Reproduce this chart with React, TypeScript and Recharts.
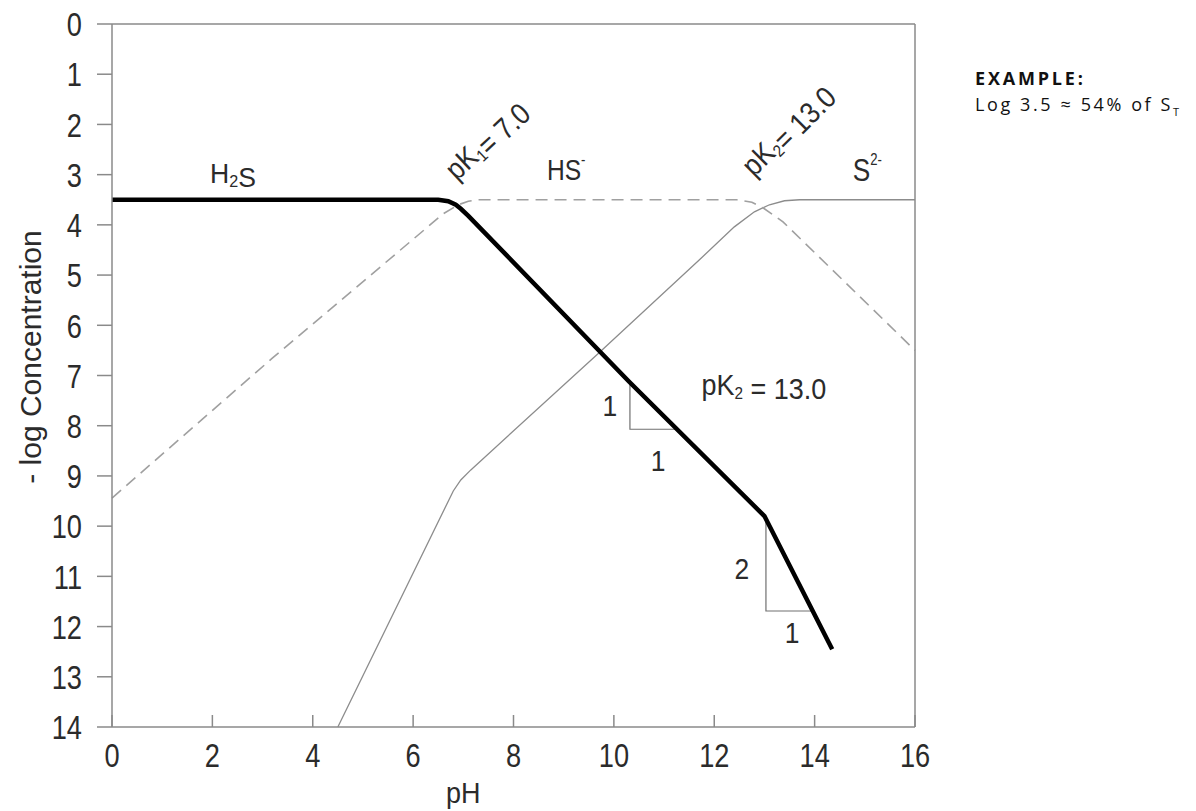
import React from 'react'
import { LineChart, Line, XAxis, YAxis, ReferenceDot, Label } from 'recharts'

const FONT = "'Liberation Sans', Arial, sans-serif"
const AXIS = '#8a8a8a'
const INK = '#2b2b2b'

// pH / -log C points
const h2sPh = [0, 6.5, 6.7, 6.85, 6.95, 7.1, 10.3, 13.0, 14.35]
const h2sLog = [3.5, 3.5, 3.53, 3.6, 3.68, 3.82, 7.12, 9.8, 12.45]
const hsPh = [0, 3.2, 6.6, 6.9, 7.1, 7.3, 12.45, 12.75, 12.97, 13.37, 16]
const hsLog = [9.44, 6.65, 3.78, 3.6, 3.53, 3.5, 3.5, 3.55, 3.66, 3.94, 6.5]
const s2Ph = [4.5, 6.8, 6.95, 7.15, 9.7, 11.7, 12.4, 12.8, 13.1, 13.4, 13.7, 16]
const s2Log = [14, 9.3, 9.08, 8.88, 6.55, 4.7, 4.04, 3.74, 3.6, 3.52, 3.5, 3.5]

// slope triangles
const tri1Ph = [10.32, 10.32, 11.27]
const tri1Log = [7.14, 8.07, 8.07]
const tri2Ph = [13.03, 13.03, 13.96]
const tri2Log = [9.82, 11.69, 11.69]

const phTicks = [0, 2, 4, 6, 8, 10, 12, 14, 16]
const logTicks = [0, 1, 2, 3, 4, 5, 6, 7, 8, 9, 10, 11, 12, 13, 14]
const rightTicks = [0, 2, 4, 6, 8, 10, 12, 14]

const toPts = (ph: number[], lg: number[]) => ph.map((p, i) => ({ ph: p, c: lg[i] }))

const h2sData = toPts(h2sPh, h2sLog)
const hsData = toPts(hsPh, hsLog)
const s2Data = toPts(s2Ph, s2Log)
const tri1Data = toPts(tri1Ph, tri1Log)
const tri2Data = toPts(tri2Ph, tri2Log)

// condensed-looking text: Liberation Sans squeezed horizontally
const Squeezed = ({ x, y, sx = 0.82, angle = 0, size = 34, anchor = 'middle', dy, children }: any) => (
  <text
    transform={`translate(${x} ${y}) rotate(${angle}) scale(${sx} 1)`}
    x={0}
    y={0}
    dy={dy}
    textAnchor={anchor}
    fontSize={size}
    fill={INK}
    fontFamily={FONT}
  >
    {children}
  </text>
)

const LeftTick = (props: any) => {
  const { x, y, payload } = props
  return (
    <Squeezed x={x} y={y} anchor="end" dy="0.36em" sx={0.8}>
      {payload.value}
    </Squeezed>
  )
}

const BottomTick = (props: any) => {
  const { x, y, payload } = props
  const axisY = y - 15
  return (
    <g>
      <line x1={x} x2={x} y1={axisY} y2={axisY - 12} stroke={AXIS} strokeWidth={1.5} />
      <Squeezed x={x} y={y} dy="0.74em" sx={0.8}>
        {payload.value}
      </Squeezed>
    </g>
  )
}

const note = (body: React.ReactNode, angle = 0, size = 30, sx = 0.88) => (p: any) => {
  const vb = p.viewBox || {}
  const cx = vb.x + (vb.width || 0) / 2
  const cy = vb.y + (vb.height || 0) / 2
  return (
    <Squeezed x={cx} y={cy} angle={angle} size={size} sx={sx} dy="0.36em">
      {body}
    </Squeezed>
  )
}

const sub = (t: string) => (
  <>
    <tspan dy={4} fontSize={17}>{t}</tspan>
    <tspan dy={-4}>{''}</tspan>
  </>
)

export default function App() {
  return (
    <div style={{ position: 'relative', width: 1180, height: 803 }}>
      <style>{'.recharts-surface{overflow:visible}'}</style>
      <LineChart width={1180} height={803} margin={{ top: 16, right: 273, bottom: 24, left: 0 }}>
        <XAxis
          type="number"
          dataKey="ph"
          domain={[0, 16]}
          ticks={phTicks}
          interval={0}
          height={60}
          tickSize={12}
          tickMargin={3}
          tickLine={false}
          axisLine={{ stroke: AXIS, strokeWidth: 1.5 }}
          tick={<BottomTick />}
        >
          <Label
            content={(p: any) => {
              const vb = p.viewBox
              return (
                <Squeezed x={vb.x + vb.width * 0.4375} y={vb.y + 76} size={29} sx={0.93}>
                  pH
                </Squeezed>
              )
            }}
          />
        </XAxis>
        <XAxis
          xAxisId="top"
          orientation="top"
          mirror
          type="number"
          domain={[0, 16]}
          ticks={phTicks}
          interval={0}
          tickSize={12}
          stroke={AXIS}
          axisLine={{ stroke: AXIS, strokeWidth: 1.5 }}
          tickLine={{ stroke: AXIS, strokeWidth: 1.5 }}
          tick={() => <g />}
        />
        <YAxis
          type="number"
          reversed
          domain={[0, 14]}
          ticks={logTicks}
          interval={0}
          width={104}
          tickSize={15}
          tickMargin={15}
          axisLine={{ stroke: AXIS, strokeWidth: 1.5 }}
          tickLine={{ stroke: AXIS, strokeWidth: 1.5 }}
          tick={<LeftTick />}
        >
          <Label
            content={(p: any) => {
              const vb = p.viewBox
              return (
                <Squeezed x={vb.x + 22} y={349} angle={-90} size={30} sx={1} dy="0.36em">
                  - log Concentration
                </Squeezed>
              )
            }}
          />
        </YAxis>
        <YAxis
          yAxisId="right"
          orientation="right"
          mirror
          type="number"
          reversed
          domain={[0, 14]}
          ticks={rightTicks}
          interval={0}
          tickSize={9}
          axisLine={{ stroke: AXIS, strokeWidth: 1.5 }}
          tickLine={{ stroke: AXIS, strokeWidth: 1.5 }}
          tick={() => <g />}
        />

        <Line data={tri1Data} dataKey="c" stroke="#707070" strokeWidth={1.2} dot={false} isAnimationActive={false} />
        <Line data={tri2Data} dataKey="c" stroke="#707070" strokeWidth={1.2} dot={false} isAnimationActive={false} />
        <Line data={s2Data} dataKey="c" stroke="#8c8c8c" strokeWidth={1.3} dot={false} isAnimationActive={false} />
        <Line data={hsData} dataKey="c" stroke="#a0a0a0" strokeWidth={1.6} strokeDasharray="12 7" dot={false} isAnimationActive={false} />
        <Line data={h2sData} dataKey="c" stroke="#000000" strokeWidth={4.5} dot={false} isAnimationActive={false} />

        <ReferenceDot x={2.41} y={2.97} r={0} fill="none" stroke="none">
          <Label content={note(<><tspan>H</tspan>{sub('2')}<tspan>S</tspan></>, 0, 28, 0.95)} />
        </ReferenceDot>
        <ReferenceDot x={7.45} y={2.3} r={0} fill="none" stroke="none">
          <Label content={note(<><tspan>pK</tspan>{sub('1')}<tspan>= 7.0</tspan></>, -43, 30, 0.88)} />
        </ReferenceDot>
        <ReferenceDot x={9.05} y={2.9} r={0} fill="none" stroke="none">
          <Label content={note(<><tspan>HS</tspan><tspan dy={-15} fontSize={16}>-</tspan></>, 0, 30, 0.82)} />
        </ReferenceDot>
        <ReferenceDot x={13.45} y={2.1} r={0} fill="none" stroke="none">
          <Label content={note(<><tspan>pK</tspan>{sub('2')}<tspan>= 13.0</tspan></>, -45, 30, 0.88)} />
        </ReferenceDot>
        <ReferenceDot x={15.05} y={2.9} r={0} fill="none" stroke="none">
          <Label content={note(<><tspan>S</tspan><tspan dy={-16} fontSize={16}>2-</tspan></>, 0, 32, 0.82)} />
        </ReferenceDot>
        <ReferenceDot x={12.99} y={7.17} r={0} fill="none" stroke="none">
          <Label content={note(<><tspan>pK</tspan>{sub('2')}<tspan> = 13.0</tspan></>, 0, 30, 0.9)} />
        </ReferenceDot>
        <ReferenceDot x={9.92} y={7.59} r={0} fill="none" stroke="none">
          <Label content={note('1')} />
        </ReferenceDot>
        <ReferenceDot x={10.88} y={8.69} r={0} fill="none" stroke="none">
          <Label content={note('1')} />
        </ReferenceDot>
        <ReferenceDot x={12.55} y={10.84} r={0} fill="none" stroke="none">
          <Label content={note('2')} />
        </ReferenceDot>
        <ReferenceDot x={13.55} y={12.11} r={0} fill="none" stroke="none">
          <Label content={note('1')} />
        </ReferenceDot>
      </LineChart>
      <div
        style={{
          position: 'absolute',
          left: 967,
          top: 57,
          fontFamily: "'Open Sans', Lato, sans-serif",
          fontSize: 18,
          lineHeight: '26px',
          color: '#111',
          letterSpacing: 2.6,
          whiteSpace: 'nowrap',
        }}
      >
        <div style={{ fontWeight: 700, letterSpacing: 2.8 }}>EXAMPLE:</div>
        <div>
          Log 3.5 ≈ 54% of S<sub style={{ fontSize: 11 }}>T</sub>
        </div>
      </div>
    </div>
  )
}
